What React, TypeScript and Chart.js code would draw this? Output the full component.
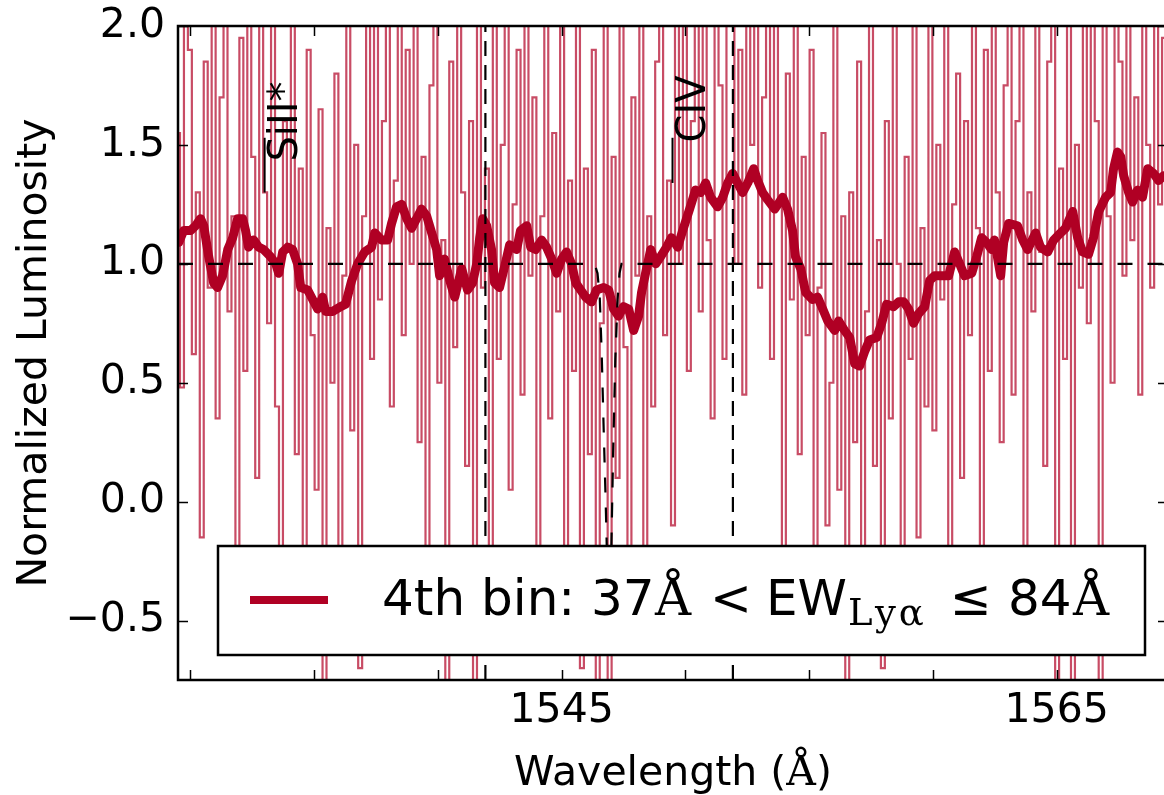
import { useEffect, useRef } from 'react';
import { Chart, registerables } from 'chart.js';

Chart.register(...registerables);

// ---- axes ----
const X_MIN = 1529.5;
const X_MAX = 1569.5;
const Y_MIN = -0.75;
const Y_MAX = 2.0;
const xTickValues = [1530, 1535, 1540, 1545, 1550, 1555, 1560, 1565];
const xTickLabels = ['', '', '', '1545', '', '', '', '1565'];
const yTickValues = [-0.5, 0, 0.5, 1.0, 1.5, 2.0];
const yTickLabels = ['\u22120.5', '0.0', '0.5', '1.0', '1.5', '2.0'];

// ---- noisy stacked spectrum (step plot, 0.16 A bins starting at 1529.5) ----
const specStart = 1529.5;
const specStep = 0.16;
const specFlux = [
  1.55, 0.48, 2.35, 1.9, 0.62, 1.3, -0.15, 1.85, 0.9, 2.4,
  0.35, 1.7, 2.6, 0.8, 1.2, -0.3, 1.95, 0.55, 2.2, 1.45,
  0.1, 2.05, 1.3, 0.75, 2.5, 0.4, -0.6, 1.6, 1.05, 2.3,
  0.2, 1.4, -0.45, 1.9, 0.7, 0.05, 1.65, -0.95, 1.15, 0.5,
  1.8, -0.2, 0.95, 2.2, 0.3, 1.5, -0.7, 1.2, 2.05, 0.6,
  2.45, 0.85, 1.6, 2.8, 0.4, 1.35, 2.1, 0.7, 1.9, 1.0,
  2.6, 0.25, 1.45, -0.35, 1.75, 2.3, 0.5, 1.1, -1.0, 1.85,
  0.65, 2.1, 1.3, 0.15, 1.6, -1.2, 2.4, 0.9, 1.4, -0.4,
  2.2, 0.6, 1.5, 2.7, 0.05, 1.25, 1.9, 0.45, 2.35, 0.95,
  1.7, -0.5, 1.2, 2.15, 0.35, 1.55, 0.8, 2.5, -0.2, 1.35,
  0.55, 2.05, -0.7, 1.4, 0.2, 1.9, -1.3, 0.75, 2.2, -0.9,
  1.45, 0.1, 2.3, 0.65, -0.5, 1.7, 0.95, 2.6, -0.25, 1.2,
  0.4, 1.85, 2.4, 0.7, 1.35, -0.1, 2.1, 1.0, 2.75, 0.55,
  1.6, 2.9, 0.8, 2.2, 1.1, 0.35, 2.5, 1.75, 0.6, 2.3,
  2.65, 1.0, 1.9, 0.45, 2.4, 1.5, 2.95, 0.9, 1.7, 2.2,
  0.6, 2.35, 1.25, -0.3, 1.8, 0.85, 2.5, 0.2, 1.45, 0.7,
  1.9, -0.6, 0.9, 1.55, -0.1, 0.5, 2.2, 0.05, 1.2, -0.85,
  1.3, 0.25, 1.85, -0.4, 0.8, 2.05, 0.15, 1.1, -0.7, 1.6,
  0.35, 2.0, 1.0, -0.5, 1.45, 0.6, 2.3, -0.15, 1.15, 0.4,
  2.2, 0.3, 1.5, 0.85, 2.45, -0.3, 1.25, 1.8, 0.1, 1.6,
  0.7, 2.4, 1.15, -0.2, 1.9, 0.55, 2.6, 1.3, 0.25, 1.75,
  2.1, 0.45, 1.6, 2.5, -0.45, 1.3, 0.8, 2.25, 1.05, 0.15,
  1.85, 2.6, -0.9, 1.4, 0.6, 2.2, -1.1, 1.5, 0.9, 2.4,
  0.75, 2.05, 1.6, -0.8, 2.7, 1.2, 0.5, 2.35, 1.85, 0.95,
  2.8, 1.1, 1.7, 0.45, 2.3, 1.5, 0.9, 2.55, 1.25, 1.95,
  1.6,
];

// ---- smoothed spectrum ----
const smoothWave = [
  1529.53, 1529.73, 1530.01, 1530.21, 1530.41, 1530.54, 1530.74, 1530.94, 1531.10, 1531.30,
  1531.51, 1531.71, 1531.91, 1532.11, 1532.23, 1532.35, 1532.56, 1532.76, 1532.96, 1533.24,
  1533.45, 1533.57, 1533.73, 1533.93, 1534.13, 1534.33, 1534.46, 1534.74, 1534.94, 1535.14,
  1535.34, 1535.47, 1535.75, 1536.07, 1536.27, 1536.52, 1536.76, 1537.04, 1537.32, 1537.45,
  1537.73, 1537.97, 1538.13, 1538.33, 1538.54, 1538.74, 1538.94, 1539.14, 1539.34, 1539.55,
  1539.75, 1539.95, 1540.07, 1540.27, 1540.48, 1540.68, 1540.96, 1541.20, 1541.40, 1541.57,
  1541.69, 1541.81, 1541.97, 1542.17, 1542.29, 1542.49, 1542.70, 1542.90, 1543.18, 1543.34,
  1543.59, 1543.75, 1543.95, 1544.19, 1544.39, 1544.60, 1544.80, 1545.00, 1545.20, 1545.40,
  1545.57, 1545.77, 1545.97, 1546.21, 1546.41, 1546.70, 1546.90, 1547.10, 1547.30, 1547.50,
  1547.71, 1547.91, 1548.11, 1548.23, 1548.39, 1548.60, 1548.80, 1549.00, 1549.24, 1549.44,
  1549.69, 1549.89, 1550.17, 1550.41, 1550.62, 1550.82, 1551.02, 1551.30, 1551.51, 1551.71,
  1551.91, 1552.11, 1552.31, 1552.52, 1552.76, 1552.92, 1553.12, 1553.32, 1553.61, 1553.93,
  1554.13, 1554.33, 1554.45, 1554.66, 1554.86, 1555.14, 1555.34, 1555.55, 1555.75, 1556.03,
  1556.19, 1556.43, 1556.64, 1556.84, 1557.04, 1557.24, 1557.44, 1557.73, 1557.93, 1558.13,
  1558.41, 1558.62, 1558.82, 1559.02, 1559.22, 1559.42, 1559.67, 1559.87, 1560.07, 1560.35,
  1560.64, 1560.88, 1561.08, 1561.28, 1561.57, 1561.77, 1561.97, 1562.17, 1562.37, 1562.49,
  1562.74, 1562.86, 1563.06, 1563.42, 1563.63, 1563.83, 1564.15, 1564.35, 1564.64, 1564.88,
  1565.16, 1565.36, 1565.65, 1565.85, 1566.05, 1566.29, 1566.49, 1566.70, 1566.98, 1567.18,
  1567.30, 1567.46, 1567.59, 1567.71, 1567.91, 1568.07, 1568.27, 1568.47, 1568.68, 1568.92,
  1569.12, 1569.32, 1569.50,
];
const smoothFlux = [
  1.09, 1.14, 1.14, 1.16, 1.19, 1.16, 1.03, 0.92, 0.90, 0.95,
  1.06, 1.11, 1.19, 1.19, 1.14, 1.07, 1.10, 1.07, 1.06, 1.03,
  1.00, 0.96, 1.05, 1.07, 1.06, 1.00, 0.90, 0.89, 0.85, 0.81,
  0.86, 0.80, 0.80, 0.82, 0.83, 0.93, 1.00, 1.05, 1.07, 1.13,
  1.10, 1.10, 1.17, 1.24, 1.25, 1.19, 1.15, 1.19, 1.23, 1.20,
  1.13, 1.06, 0.95, 1.02, 0.93, 0.86, 0.98, 0.89, 0.92, 1.00,
  1.11, 1.19, 1.16, 1.06, 0.92, 0.90, 0.99, 1.08, 1.06, 1.14,
  1.16, 1.07, 1.06, 1.10, 1.07, 1.02, 0.96, 1.02, 1.05, 1.00,
  0.92, 0.89, 0.86, 0.84, 0.89, 0.90, 0.89, 0.81, 0.78, 0.82,
  0.81, 0.72, 0.78, 0.88, 0.96, 1.06, 1.00, 1.03, 1.07, 1.11,
  1.07, 1.14, 1.23, 1.31, 1.30, 1.34, 1.28, 1.24, 1.28, 1.34,
  1.38, 1.34, 1.30, 1.34, 1.40, 1.35, 1.30, 1.27, 1.23, 1.28,
  1.23, 1.14, 1.03, 0.98, 0.88, 0.85, 0.86, 0.81, 0.76, 0.72,
  0.76, 0.72, 0.69, 0.58, 0.57, 0.63, 0.68, 0.69, 0.75, 0.83,
  0.82, 0.84, 0.84, 0.81, 0.75, 0.79, 0.82, 0.93, 0.95, 0.95,
  0.95, 1.05, 1.00, 0.95, 0.96, 1.03, 1.11, 1.09, 1.06, 1.10,
  0.95, 1.09, 1.17, 1.16, 1.10, 1.06, 1.13, 1.07, 1.05, 1.10,
  1.13, 1.15, 1.22, 1.11, 1.05, 1.04, 1.11, 1.22, 1.28, 1.30,
  1.40, 1.47, 1.45, 1.37, 1.30, 1.26, 1.31, 1.28, 1.40, 1.38,
  1.35, 1.37, 1.36,
];

// ---- continuum + absorption model (dashed) ----
const modelWave = [
  1529.5, 1546.25, 1546.36, 1546.45, 1546.54, 1546.62, 1546.70, 1546.78, 1546.86, 1546.94,
  1547.01, 1547.08, 1547.17, 1547.26, 1547.34, 1547.42, 1569.5,
];
const modelFlux = [
  1.0, 1.0, 0.99, 0.96, 0.86, 0.62, 0.30, 0.0, -0.35, -0.55,
  -0.19, 0.2, 0.6, 0.85, 0.96, 1.0, 1.0,
];

// ---- window edges (vertical dashed) ----
const windowWave = [1541.92, 1551.92];

// ---- line identifications ----
const lineIdNames = ['SiII*', 'CIV'];
const lineIdWave = [1533.0, 1549.48];
const lineIdLow = [1.30, 1.34];
const lineIdHigh = [1.53, 1.53];
const lineIdTextBottom = [1.43, 1.51];

const legendLabel = ['4th bin: 37', '\u00C5', '<', 'EW', 'Ly\u03B1', '\u2264', '84', '\u00C5'];

const SANS = '"DejaVu Sans", "Noto Sans", sans-serif';
const SERIF = '"DejaVu Serif", "Liberation Serif", serif';
const DARK_RED = '#b00024';
const LIGHT_RED = 'rgba(176, 0, 36, 0.7)';

const decorPlugin = {
  id: 'decor',
  afterDraw(chart: any) {
    const { ctx, chartArea: a, scales } = chart;
    const xs = scales.x;
    const ys = scales.y;
    ctx.save();

    // inward ticks on all four sides
    ctx.strokeStyle = '#000';
    ctx.lineWidth = 1.5;
    ctx.beginPath();
    for (const v of xTickValues) {
      const px = Math.round(xs.getPixelForValue(v)) + 0.5;
      ctx.moveTo(px, a.bottom);
      ctx.lineTo(px, a.bottom - 10);
      ctx.moveTo(px, a.top);
      ctx.lineTo(px, a.top + 10);
    }
    for (const v of yTickValues) {
      const py = Math.round(ys.getPixelForValue(v)) + 0.5;
      ctx.moveTo(a.left, py);
      ctx.lineTo(a.left + 10, py);
      ctx.moveTo(a.right, py);
      ctx.lineTo(a.right - 10, py);
    }
    ctx.stroke();

    // frame
    ctx.lineWidth = 2.5;
    ctx.strokeRect(a.left, a.top, a.right - a.left, a.bottom - a.top);

    // line identification labels (rotated)
    ctx.fillStyle = '#000';
    ctx.font = '40px ' + SANS;
    ctx.textAlign = 'left';
    ctx.textBaseline = 'alphabetic';
    lineIdNames.forEach((name, i) => {
      const px = xs.getPixelForValue(lineIdWave[i]);
      const py = ys.getPixelForValue(lineIdTextBottom[i]);
      ctx.save();
      ctx.translate(px + 32, py);
      ctx.rotate(-Math.PI / 2);
      ctx.fillText(name, 0, 0);
      ctx.restore();
    });

    // x-axis title
    ctx.font = '41px ' + SANS;
    const t1 = 'Wavelength (';
    const t3 = ')';
    const w1 = ctx.measureText(t1).width;
    const w3 = ctx.measureText(t3).width;
    ctx.font = '41px ' + SERIF;
    const w2 = ctx.measureText('\u00C5').width;
    const cx = (a.left + a.right) / 2;
    let tx = cx - (w1 + w2 + w3) / 2;
    const tb = 785;
    ctx.font = '41px ' + SANS;
    ctx.fillText(t1, tx, tb);
    tx += w1;
    ctx.font = '41px ' + SERIF;
    ctx.fillText('\u00C5', tx, tb);
    tx += w2;
    ctx.font = '41px ' + SANS;
    ctx.fillText(t3, tx, tb);

    // y-axis title
    ctx.save();
    ctx.translate(46, (a.top + a.bottom) / 2);
    ctx.rotate(-Math.PI / 2);
    ctx.textAlign = 'center';
    ctx.font = '41px ' + SANS;
    ctx.fillText('Normalized Luminosity', 0, 0);
    ctx.restore();

    // legend
    const lx0 = a.left + 40;
    const ly0 = 546;
    const lx1 = 1145;
    const ly1 = 655;
    ctx.fillStyle = '#fff';
    ctx.fillRect(lx0, ly0, lx1 - lx0, ly1 - ly0);
    ctx.strokeStyle = '#000';
    ctx.lineWidth = 2.5;
    ctx.strokeRect(lx0, ly0, lx1 - lx0, ly1 - ly0);
    ctx.strokeStyle = DARK_RED;
    ctx.lineWidth = 8;
    ctx.lineCap = 'butt';
    ctx.beginPath();
    ctx.moveTo(250, 600);
    ctx.lineTo(328, 600);
    ctx.stroke();

    ctx.fillStyle = '#000';
    const base = 615;
    const segs = [
      { x: 382, f: '50px ' + SANS, dy: 0, ls: '0px' },
      { x: 655, f: '50px ' + SERIF, dy: 0, ls: '0px' },
      { x: 710, f: '50px ' + SANS, dy: 0, ls: '0px' },
      { x: 766, f: '50px ' + SANS, dy: 0, ls: '0px' },
      { x: 848, f: '37px ' + SERIF, dy: 10, ls: '3px' },
      { x: 950, f: '50px ' + SANS, dy: 0, ls: '0px' },
      { x: 1008, f: '50px ' + SANS, dy: 0, ls: '0px' },
      { x: 1073, f: '50px ' + SERIF, dy: 0, ls: '0px' },
    ];
    segs.forEach((s, i) => {
      ctx.font = s.f;
      (ctx as any).letterSpacing = s.ls;
      ctx.fillText(legendLabel[i], s.x, base + s.dy);
    });
    (ctx as any).letterSpacing = '0px';

    ctx.restore();
  },
};

export default function App() {
  const ref = useRef<HTMLCanvasElement | null>(null);

  useEffect(() => {
    if (!ref.current) return;
    const specData = specFlux.map((v, i) => ({ x: specStart + i * specStep, y: v }));
    const smoothData = smoothWave.map((w, i) => ({ x: w, y: smoothFlux[i] }));
    const modelData = modelWave.map((w, i) => ({ x: w, y: modelFlux[i] }));

    const datasets: any[] = [
      {
        data: specData,
        stepped: 'middle',
        borderColor: LIGHT_RED,
        borderWidth: 2.2,
        pointRadius: 0,
        order: 10,
      },
      {
        data: smoothData,
        borderColor: DARK_RED,
        borderWidth: 9,
        borderJoinStyle: 'round',
        borderCapStyle: 'round',
        pointRadius: 0,
        tension: 0,
        order: 9,
      },
      {
        data: modelData,
        borderColor: '#000',
        borderWidth: 2.2,
        borderDash: [15, 15],
        pointRadius: 0,
        order: 8,
      },
    ];
    windowWave.forEach((w) => {
      datasets.push({
        data: [
          { x: w, y: Y_MIN },
          { x: w, y: Y_MAX },
        ],
        borderColor: '#000',
        borderWidth: 2.2,
        borderDash: [15, 9],
        pointRadius: 0,
        order: 7,
      });
    });
    lineIdWave.forEach((w, i) => {
      datasets.push({
        data: [
          { x: w, y: lineIdLow[i] },
          { x: w, y: lineIdHigh[i] },
        ],
        borderColor: '#000',
        borderWidth: 2,
        pointRadius: 0,
        order: 6,
      });
    });

    const chart = new Chart(ref.current, {
      type: 'line',
      data: { datasets },
      options: {
        animation: false,
        responsive: false,
        devicePixelRatio: 1,
        layout: { padding: { top: 26, right: 4, left: 0, bottom: 0 } },
        plugins: { legend: { display: false }, tooltip: { enabled: false } },
        scales: {
          x: {
            type: 'linear',
            min: X_MIN,
            max: X_MAX,
            afterBuildTicks: (s: any) => {
              s.ticks = xTickValues.map((v) => ({ value: v }));
            },
            afterFit: (s: any) => {
              s.height = 115;
              s.paddingLeft = 0;
              s.paddingRight = 0;
            },
            grid: { display: false, drawTicks: false },
            border: { display: false },
            ticks: {
              autoSkip: false,
              maxRotation: 0,
              padding: 7,
              color: '#000',
              font: { family: SANS, size: 41 },
              callback: (_v: any, i: number) => xTickLabels[i] ?? '',
            },
          },
          y: {
            type: 'linear',
            min: Y_MIN,
            max: Y_MAX,
            afterBuildTicks: (s: any) => {
              s.ticks = yTickValues.map((v) => ({ value: v }));
            },
            afterFit: (s: any) => {
              s.width = 178;
              s.paddingTop = 0;
              s.paddingBottom = 0;
            },
            grid: { display: false, drawTicks: false },
            border: { display: false },
            ticks: {
              padding: 13,
              color: '#000',
              font: { family: SANS, size: 41 },
              callback: (_v: any, i: number) => yTickLabels[i] ?? '',
            },
          },
        },
      },
      plugins: [decorPlugin],
    });
    return () => chart.destroy();
  }, []);

  return (
    <div
      style={{
        position: 'fixed',
        left: 0,
        top: 0,
        width: 1164,
        height: 795,
        overflow: 'hidden',
        background: '#fff',
      }}
    >
      <canvas ref={ref} width={1172} height={795} style={{ display: 'block' }} />
    </div>
  );
}
